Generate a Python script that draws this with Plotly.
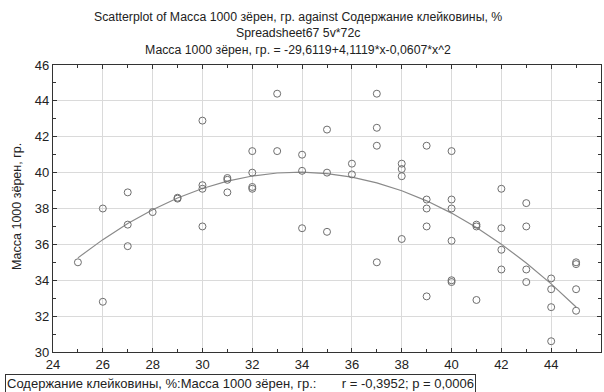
import numpy as np
import plotly.graph_objects as go

# Data: gluten content (%) vs mass of 1000 grains (g)
gluten = [25, 26, 26, 27, 27, 27, 28, 29, 29,
          30, 30, 30, 30, 31, 31, 31, 32, 32, 32, 32,
          33, 33, 34, 34, 34, 35, 35, 35, 36, 36,
          37, 37, 37, 37, 38, 38, 38, 38,
          39, 39, 39, 39, 39, 40, 40, 40, 40, 40, 40,
          41, 41, 41, 42, 42, 42, 42, 43, 43, 43, 43,
          44, 44, 44, 44, 45, 45, 45, 45]
mass = [35.0, 38.0, 32.8, 38.9, 37.1, 35.9, 37.8, 38.6, 38.55,
        42.9, 39.3, 39.1, 37.0, 39.7, 39.6, 38.9, 41.2, 40.0, 39.2, 39.1,
        44.4, 41.2, 41.0, 40.1, 36.9, 42.4, 40.0, 36.7, 40.5, 39.9,
        44.4, 42.5, 41.5, 35.0, 40.5, 40.2, 39.8, 36.3,
        41.5, 38.5, 38.0, 37.0, 33.1, 41.2, 38.5, 38.0, 36.2, 34.0, 33.9,
        37.1, 37.0, 32.9, 39.1, 36.9, 35.7, 34.6, 38.3, 37.0, 34.6, 33.9,
        34.1, 33.5, 32.5, 30.6, 35.0, 34.9, 33.5, 32.3]

# Fitted polynomial printed in the chart title
fit_coef = [-29.6119, 4.1119, -0.0607]
fit_x = list(range(25, 46))

x_ticks = [24, 26, 28, 30, 32, 34, 36, 38, 40, 42, 44, 46]
y_ticks = [30, 32, 34, 36, 38, 40, 42, 44, 46]

title_lines = ["Scatterplot of Масса 1000 зёрен, гр. against Содержание клейковины, %",
               "Spreadsheet67 5v*72c",
               "Масса 1000 зёрен, гр. = -29,6119+4,1119*x-0,0607*x^2"]
y_title = "Масса 1000 зёрен, гр."
legend_text = ("Содержание клейковины, %:Масса 1000 зёрен, гр.:"
               + "\u00a0" * 7 + "r = -0,3952; p = 0,0006")

fx = np.array(fit_x, dtype=float)
fy = fit_coef[0] + fit_coef[1] * fx + fit_coef[2] * fx ** 2

FONT = "Liberation Sans, Arial, sans-serif"
TXT = "#222222"

fig = go.Figure()
fig.add_trace(go.Scatter(x=fx, y=fy, mode="lines",
                         line=dict(color="#8a8a8a", width=1.2),
                         hoverinfo="skip", showlegend=False))
fig.add_trace(go.Scatter(x=gluten, y=mass, mode="markers",
                         marker=dict(symbol="circle-open", size=7,
                                     color="#6e6e6e", line=dict(width=1, color="#6e6e6e")),
                         showlegend=False))

L, R, T, B = 53, 3, 65, 40
W, H = 604, 392
pw, ph = W - L - R, H - T - B

def px_to_paper_x(px):
    return (px - L) / pw

def py_to_paper_y(py):
    return (H - B - py) / ph

annotations = []
for i, (line, py) in enumerate(zip(title_lines, [17, 33.5, 50])):
    annotations.append(dict(text=line, xref="paper", yref="paper",
                            x=px_to_paper_x(298), y=py_to_paper_y(py),
                            xanchor="center", yanchor="middle", showarrow=False,
                            font=dict(family=FONT, size=12.3, color=TXT)))
annotations.append(dict(text=y_title, xref="paper", yref="paper",
                        x=px_to_paper_x(17), y=py_to_paper_y(207),
                        xanchor="center", yanchor="middle", showarrow=False, textangle=-90,
                        font=dict(family=FONT, size=12.5, color=TXT)))
annotations.append(dict(text=legend_text, xref="paper", yref="paper",
                        x=px_to_paper_x(5), y=py_to_paper_y(383.5),
                        xanchor="left", yanchor="middle", showarrow=False,
                        bordercolor="#333333", borderwidth=1, borderpad=1,
                        bgcolor="white",
                        font=dict(family=FONT, size=13, color=TXT)))

axis_common = dict(showline=True, linecolor="#333333", linewidth=1.2, mirror="ticks",
                   ticks="inside", ticklen=4, tickcolor="#333333",
                   showgrid=True, gridcolor="#dadada", gridwidth=1,
                   zeroline=False,
                   tickfont=dict(family=FONT, size=13, color=TXT))

fig.update_layout(
    width=W, height=H,
    margin=dict(l=L, r=R, t=T, b=B, autoexpand=False),
    paper_bgcolor="white", plot_bgcolor="white",
    xaxis=dict(range=[24, 46], tickvals=x_ticks, ticktext=[str(v) for v in x_ticks],
               minor=dict(dtick=1, tick0=24, ticks="inside", ticklen=3,
                          tickcolor="#333333", showgrid=False),
               **axis_common),
    yaxis=dict(range=[30, 46], tickvals=y_ticks, ticktext=[str(v) for v in y_ticks],
               minor=dict(dtick=1, tick0=30, ticks="inside", ticklen=3,
                          tickcolor="#333333", showgrid=False),
               **axis_common),
    annotations=annotations,
    showlegend=False,
)

fig.write_html("out.html")
